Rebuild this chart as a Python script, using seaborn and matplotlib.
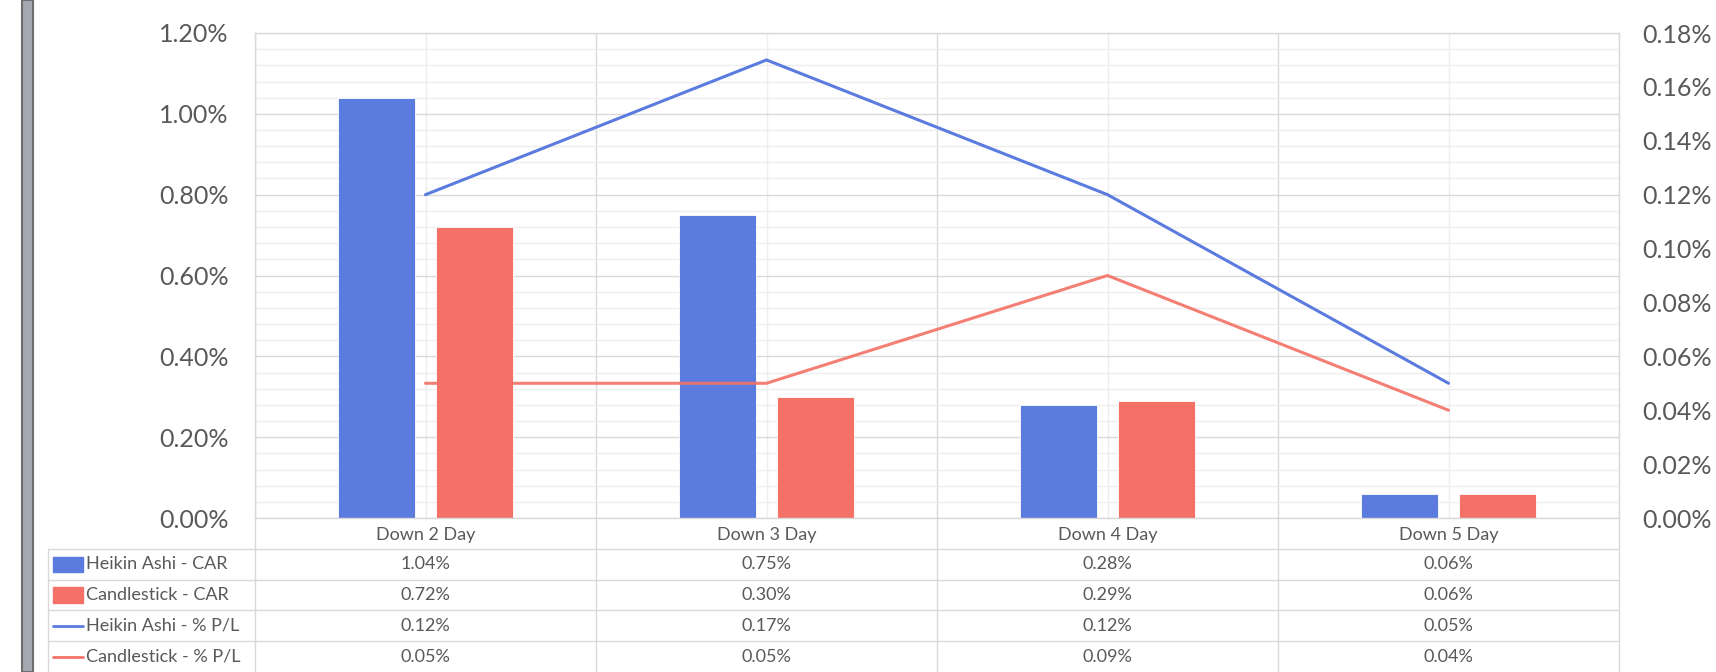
import numpy as np
import pandas as pd
import matplotlib
matplotlib.use("Agg")
import matplotlib.pyplot as plt
import matplotlib.ticker as ticker
import seaborn as sns
from matplotlib.patches import Rectangle

# data
categories = ["Down 2 Day", "Down 3 Day", "Down 4 Day", "Down 5 Day"]
series_names = ["Heikin Ashi - CAR", "Candlestick - CAR",
                "Heikin Ashi - % P/L", "Candlestick - % P/L"]
ha_car = [0.0104, 0.0075, 0.0028, 0.0006]
cs_car = [0.0072, 0.0030, 0.0029, 0.0006]
ha_pl = [0.0012, 0.0017, 0.0012, 0.0005]
cs_pl = [0.0005, 0.0005, 0.0009, 0.0004]

BLUE = "#5B7BDE"
RED = "#F37166"
GRID = "#D9D9D9"
MINOR = "#EEEEEE"
TXT = "#595959"
W, H = 1716, 672

sns.set_theme(style="white")
plt.rcParams["font.family"] = ["Lato", "DejaVu Sans"]

fig = plt.figure(figsize=(W / 100, H / 100), dpi=100)
ax = fig.add_axes([255 / W, 1 - 518 / H, (1619 - 255) / W, (518 - 33) / H])

bars = pd.DataFrame({
    "cat": categories * 2,
    "val": ha_car + cs_car,
    "series": [series_names[0]] * 4 + [series_names[1]] * 4,
})
sns.barplot(data=bars, x="cat", y="val", hue="series", order=categories,
            hue_order=series_names[:2], palette=[BLUE, RED], saturation=1,
            width=0.575, gap=0.214, legend=False, ax=ax,
            edgecolor="white", linewidth=0.6)

ax2 = ax.twinx()
pos = np.arange(len(categories))
sns.lineplot(x=pos, y=ha_pl, color=BLUE, lw=2.2, ax=ax2)
sns.lineplot(x=pos, y=cs_pl, color=RED, lw=2.2, alpha=0.9, ax=ax2)

# axes styling
ax.set_xlim(-0.5, 3.5)
ax.set_ylim(0, 0.012)
ax.set_yticks(np.arange(0, 0.0121, 0.002))
ax.set_yticks(np.arange(0, 0.012, 0.0004), minor=True)
ax.set_xticks([-0.5, 0.5, 1.5, 2.5, 3.5])
ax.set_xticks([0, 1, 2, 3], minor=True)
ax.set_xticklabels([])
ax.set_xticklabels([], minor=True)
ax.set_xlabel("")
ax.set_ylabel("")
ax.yaxis.set_major_formatter(ticker.PercentFormatter(xmax=1, decimals=2))
ax.grid(which="major", color=GRID, lw=1)
ax.grid(which="minor", color=MINOR, lw=1)
ax.set_axisbelow(True)
ax.tick_params(which="both", length=0)
ax.tick_params(axis="y", labelsize=18, labelcolor=TXT, pad=19)
for sp in ax.spines.values():
    sp.set_color(GRID)
    sp.set_linewidth(1)

ax2.set_ylim(0, 0.0018)
ax2.set_yticks(np.arange(0, 0.00181, 0.0002))
ax2.yaxis.set_major_formatter(ticker.PercentFormatter(xmax=1, decimals=2))
ax2.tick_params(axis="y", length=0, labelsize=18, labelcolor=TXT, pad=17)
ax2.set_ylabel("")
ax2.grid(False)
for sp in ax2.spines.values():
    sp.set_visible(False)
ax.set_xlim(-0.5, 3.5)

# data table under the plot
unit = 1364 / 4
left = -0.5 - (255 - 48) / unit
tab = fig.add_axes([48 / W, 0, (1619 - 48) / W, (672 - 518) / H])
tab.set_xlim(left, 3.5)
tab.set_ylim(0, 5)
tab.axis("off")

for y in [1, 2, 3, 4]:
    tab.plot([left, 3.5], [y, y], color=GRID, lw=1, clip_on=False)
for x in [-0.5, 0.5, 1.5, 2.5, 3.5]:
    tab.plot([x, x], [0, 5], color=GRID, lw=1, clip_on=False)
tab.plot([left, left], [0, 4], color=GRID, lw=1, clip_on=False)

for i, c in enumerate(categories):
    tab.text(i, 4.45, c, ha="center", va="center", fontsize=13, color=TXT)

rows = [ha_car, cs_car, ha_pl, cs_pl]
colors = [BLUE, RED, BLUE, RED]
key_x = left + 5 / unit
key_w = 30 / unit
for r, (name, vals, col) in enumerate(zip(series_names, rows, colors)):
    yc = 3.5 - r
    if r < 2:
        tab.add_patch(Rectangle((key_x, yc - 0.25), key_w, 0.5, color=col))
    else:
        tab.plot([key_x, key_x + key_w], [yc, yc], color=col, lw=2)
    tab.text(left + 38 / unit, yc, name, ha="left", va="center",
             fontsize=13, color=TXT)
    for i, v in enumerate(vals):
        tab.text(i, yc, f"{v:.2%}", ha="center", va="center",
                 fontsize=13, color=TXT)

# window border on the left
fig.add_artist(Rectangle((22 / W, 0), 11 / W, 1, transform=fig.transFigure,
                         facecolor="#A5A9B1", edgecolor="#6E6E6E", lw=1.5))

fig.savefig("out.png", dpi=100, facecolor="white")
